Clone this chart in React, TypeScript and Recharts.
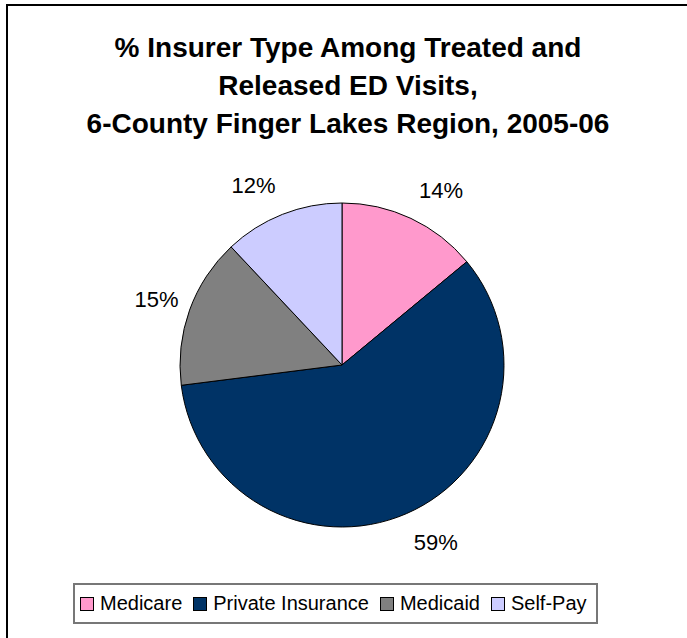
import React from 'react';
import { PieChart, Pie, Cell, Legend } from 'recharts';

const categories = ['Medicare', 'Private Insurance', 'Medicaid', 'Self-Pay'];
const shares = [14, 59, 15, 12];
const colors = ['#FF99CC', '#003366', '#808080', '#CCCCFF'];
const titleLines = [
  '% Insurer Type Among Treated and',
  'Released ED Visits,',
  '6-County Finger Lakes Region, 2005-06',
];

const data = categories.map((name, i) => ({ name, value: shares[i] }));

const FONT = '"Liberation Sans", Arial, Helvetica, sans-serif';
const RAD = Math.PI / 180;

function renderLabel(props: any) {
  const { cx, cy, midAngle, outerRadius, value } = props;
  const c = Math.cos(midAngle * RAD);
  const s = Math.sin(midAngle * RAD);
  const x = cx + (outerRadius + 28) * c + 20 * Math.sign(c) * Math.abs(s);
  const y = cy - (outerRadius + 31) * s;
  return (
    <text
      x={x}
      y={y}
      textAnchor="middle"
      dominantBaseline="central"
      fontSize={22}
      fontFamily={FONT}
      fill="#000"
    >
      {`${value}%`}
    </text>
  );
}

function renderLegend() {
  return (
    <div
      style={{
        boxSizing: 'border-box',
        width: 525,
        height: 41,
        border: '2px solid #777',
        display: 'flex',
        alignItems: 'center',
        paddingLeft: 5,
        fontFamily: FONT,
        fontSize: 20,
        color: '#000',
        background: '#fff',
        whiteSpace: 'nowrap',
      }}
    >
      {categories.map((name, i) => (
        <div key={name} style={{ display: 'flex', alignItems: 'center', marginRight: i < categories.length - 1 ? 11 : 0 }}>
          <span
            style={{
              display: 'inline-block',
              boxSizing: 'border-box',
              width: 14,
              height: 14,
              background: colors[i],
              border: '1px solid #000',
              marginRight: 6,
            }}
          />
          <span>{name}</span>
        </div>
      ))}
    </div>
  );
}

export default function App() {
  return (
    <div
      style={{
        position: 'absolute',
        left: 0,
        top: 0,
        width: 687,
        height: 638,
        overflow: 'hidden',
        background: '#fff',
        fontFamily: FONT,
      }}
    >
      <div
        style={{
          position: 'absolute',
          left: 6,
          top: 4,
          width: 800,
          height: 800,
          border: '2px solid #000',
          boxSizing: 'border-box',
        }}
      />
      <svg
        width={687}
        height={160}
        style={{ position: 'absolute', left: 0, top: 0 }}
      >
        {titleLines.map((t, i) => (
          <text
            key={i}
            x={348}
            y={57 + i * 38}
            textAnchor="middle"
            fontSize={28}
            fontWeight="bold"
            fontFamily={FONT}
            fill="#000"
          >
            {t}
          </text>
        ))}
      </svg>
      <div style={{ position: 'absolute', left: 0, top: 0 }}>
        <PieChart width={687} height={638} margin={{ top: 0, right: 0, bottom: 0, left: 0 }}>
          <Pie
            data={data}
            dataKey="value"
            nameKey="name"
            cx={342}
            cy={365}
            outerRadius={162}
            startAngle={90}
            endAngle={-270}
            stroke="#000"
            strokeWidth={1}
            labelLine={false}
            label={renderLabel}
            isAnimationActive={false}
          >
            {data.map((d, i) => (
              <Cell key={d.name} fill={colors[i]} />
            ))}
          </Pie>
          <Legend
            content={renderLegend}
            wrapperStyle={{ position: 'absolute', left: 73, top: 583, width: 525, height: 41 }}
          />
        </PieChart>
      </div>
    </div>
  );
}
